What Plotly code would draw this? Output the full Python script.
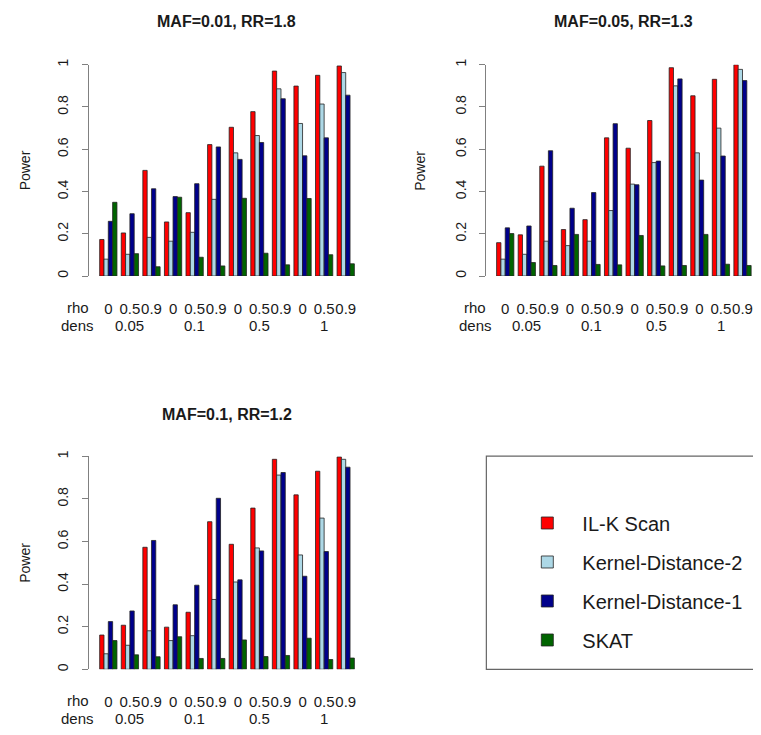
import plotly.graph_objects as go

# ---- data ----
dens = ["0.05"] * 3 + ["0.1"] * 3 + ["0.5"] * 3 + ["1"] * 3
rho = ["0", "0.5", "0.9"] * 4
categories = [f"{d}|{r}" for d, r in zip(dens, rho)]
dens_levels = ["0.05", "0.1", "0.5", "1"]

methods = ["IL-K Scan", "Kernel-Distance-2", "Kernel-Distance-1", "SKAT"]
colors = ["#FF0000", "#ADD8E6", "#00008B", "#006400"]

panel_titles = ["MAF=0.01, RR=1.8", "MAF=0.05, RR=1.3", "MAF=0.1, RR=1.2"]

# MAF=0.01, RR=1.8
p1_ilk = [0.173, 0.204, 0.50, 0.256, 0.30, 0.622, 0.704, 0.778, 0.970, 0.899, 0.950, 0.994]
p1_kd2 = [0.080, 0.103, 0.183, 0.165, 0.207, 0.363, 0.583, 0.665, 0.886, 0.722, 0.814, 0.963]
p1_kd1 = [0.259, 0.295, 0.413, 0.376, 0.437, 0.611, 0.552, 0.632, 0.839, 0.569, 0.654, 0.856]
p1_skat = [0.349, 0.106, 0.044, 0.373, 0.089, 0.048, 0.368, 0.108, 0.053, 0.367, 0.101, 0.058]

# MAF=0.05, RR=1.3
p2_ilk = [0.158, 0.195, 0.52, 0.22, 0.267, 0.654, 0.605, 0.736, 0.986, 0.853, 0.931, 1.0]
p2_kd2 = [0.080, 0.103, 0.165, 0.144, 0.165, 0.31, 0.435, 0.537, 0.90, 0.583, 0.70, 0.978]
p2_kd1 = [0.228, 0.237, 0.593, 0.321, 0.395, 0.721, 0.432, 0.544, 0.933, 0.454, 0.568, 0.925]
p2_skat = [0.201, 0.064, 0.05, 0.197, 0.055, 0.053, 0.192, 0.048, 0.05, 0.197, 0.056, 0.05]

# MAF=0.1, RR=1.2
p3_ilk = [0.161, 0.207, 0.573, 0.198, 0.268, 0.693, 0.587, 0.757, 0.986, 0.819, 0.93, 0.997]
p3_kd2 = [0.073, 0.113, 0.181, 0.135, 0.158, 0.328, 0.41, 0.57, 0.912, 0.537, 0.71, 0.986]
p3_kd1 = [0.224, 0.274, 0.605, 0.303, 0.395, 0.803, 0.42, 0.556, 0.924, 0.437, 0.553, 0.949]
p3_skat = [0.135, 0.068, 0.059, 0.153, 0.051, 0.051, 0.138, 0.06, 0.065, 0.146, 0.046, 0.053]

panels = [
    [p1_ilk, p1_kd2, p1_kd1, p1_skat],
    [p2_ilk, p2_kd2, p2_kd1, p2_skat],
    [p3_ilk, p3_kd2, p3_kd1, p3_skat],
]

# ---- layout geometry ----
# The page body has an 8px margin, so the figure is sized to fit the
# window and target pixel positions are shifted by that margin.
OFF = 8
W, H = 761 - 2 * OFF, 735 - 2 * OFF
FONT = "Liberation Sans, Arial, sans-serif"
TXT = "#1a1a1a"
AX = "#808080"


def fx(px):
    return min(1.0, max(0.0, (px - OFF) / W))


def fy(py):
    return min(1.0, max(0.0, 1 - (py - OFF) / H))


panel_geom = [
    dict(x0=89, x1=360, ytop=59.3, ybot=273.0, xr=[-0.90, 11.64], title_x=227, title_y=16, power_x=25, lab_x=78),
    dict(x0=487, x1=753, ytop=59.3, ybot=273.0, xr=[-0.875, 11.44], title_x=624, title_y=16, power_x=421, lab_x=476),
    dict(x0=89, x1=360, ytop=455.3, ybot=670.7, xr=[-0.90, 11.64], title_x=227, title_y=413, power_x=25, lab_x=78),
]

fig = go.Figure()
annotations = []

for i, (vals, g) in enumerate(zip(panels, panel_geom)):
    xa = "x" if i == 0 else f"x{i+1}"
    ya = "y" if i == 0 else f"y{i+1}"
    for m, (name, col, v) in enumerate(zip(methods, colors, vals)):
        fig.add_trace(go.Bar(
            x=categories, y=v, name=name,
            marker=dict(color=col, line=dict(color="#222222", width=0.8)),
            xaxis=xa, yaxis=ya,
            legendgroup=name, showlegend=(i == 0),
            hovertemplate=name + ": %{y}<extra></extra>",
        ))

    xkey = "xaxis" if i == 0 else f"xaxis{i+1}"
    ykey = "yaxis" if i == 0 else f"yaxis{i+1}"
    fig.layout[xkey] = dict(
        domain=[fx(g["x0"]), fx(g["x1"])], anchor=ya,
        type="category", categoryorder="array", categoryarray=categories,
        range=g["xr"], showline=False, showgrid=False, zeroline=False,
        ticks="", tickvals=categories, ticktext=rho, tickangle=0,
        tickfont=dict(family=FONT, size=15, color=TXT),
        ticklabelstandoff=22, fixedrange=True,
    )
    fig.layout[ykey] = dict(
        domain=[fy(g["ybot"]), fy(g["ytop"])], anchor=xa,
        range=[0, 1], tickvals=[0, 0.2, 0.4, 0.6, 0.8, 1],
        ticktext=["0", "0.2", "0.4", "0.6", "0.8", "1"],
        tickangle=-90, ticks="outside", ticklen=6, tickcolor=AX,
        showline=True, linecolor=AX, linewidth=1.2,
        showgrid=False, zeroline=False,
        tickfont=dict(family=FONT, size=14, color=TXT),
        ticklabelstandoff=8, fixedrange=True,
    )

    # panel title
    annotations.append(dict(
        text=f"<b>{panel_titles[i]}</b>", xref="paper", yref="paper",
        x=fx(g["title_x"]), y=fy(g["title_y"]), showarrow=False,
        xanchor="center", yanchor="middle",
        font=dict(family=FONT, size=16, color=TXT),
    ))
    # y label
    annotations.append(dict(
        text="Power", xref="paper", yref=f"{ya} domain",
        x=fx(g["power_x"]), y=0.5, textangle=-90, showarrow=False,
        xanchor="center", yanchor="middle",
        font=dict(family=FONT, size=14, color=TXT),
    ))
    # row labels
    annotations.append(dict(
        text="rho", xref="paper", yref=f"{ya} domain",
        x=fx(g["lab_x"]), y=0, yshift=-31, showarrow=False,
        xanchor="center", yanchor="middle",
        font=dict(family=FONT, size=15, color=TXT),
    ))
    annotations.append(dict(
        text="dens", xref="paper", yref=f"{ya} domain",
        x=fx(g["lab_x"]), y=0, yshift=-49, showarrow=False,
        xanchor="center", yanchor="middle",
        font=dict(family=FONT, size=15, color=TXT),
    ))
    # dens labels under middle group of each triple
    for d in dens_levels:
        mid = [c for c, dd, r in zip(categories, dens, rho) if dd == d and r == "0.5"][0]
        annotations.append(dict(
            text=d, xref=xa, yref=f"{ya} domain",
            x=mid, y=0, yshift=-49, showarrow=False,
            xanchor="center", yanchor="middle",
            font=dict(family=FONT, size=15, color=TXT),
        ))

# legend frame
shapes = [dict(
    type="rect", xref="paper", yref="paper",
    x0=fx(487), x1=1.03, y0=fy(670.7), y1=fy(455),
    line=dict(color="#666666", width=1.2), fillcolor="rgba(0,0,0,0)",
)]

fig.update_layout(
    width=W, height=H,
    margin=dict(l=0, r=0, t=0, b=0),
    paper_bgcolor="white", plot_bgcolor="white",
    barmode="group", bargap=0.2, bargroupgap=0,
    annotations=annotations, shapes=shapes,
    showlegend=True,
    legend=dict(
        x=fx(513), y=fy(503), xanchor="left", yanchor="top",
        bgcolor="rgba(0,0,0,0)", borderwidth=0,
        font=dict(family=FONT, size=20, color=TXT),
        itemwidth=60, tracegroupgap=10,
        itemclick=False, itemdoubleclick=False,
    ),
)

fig.write_html("out.html")
